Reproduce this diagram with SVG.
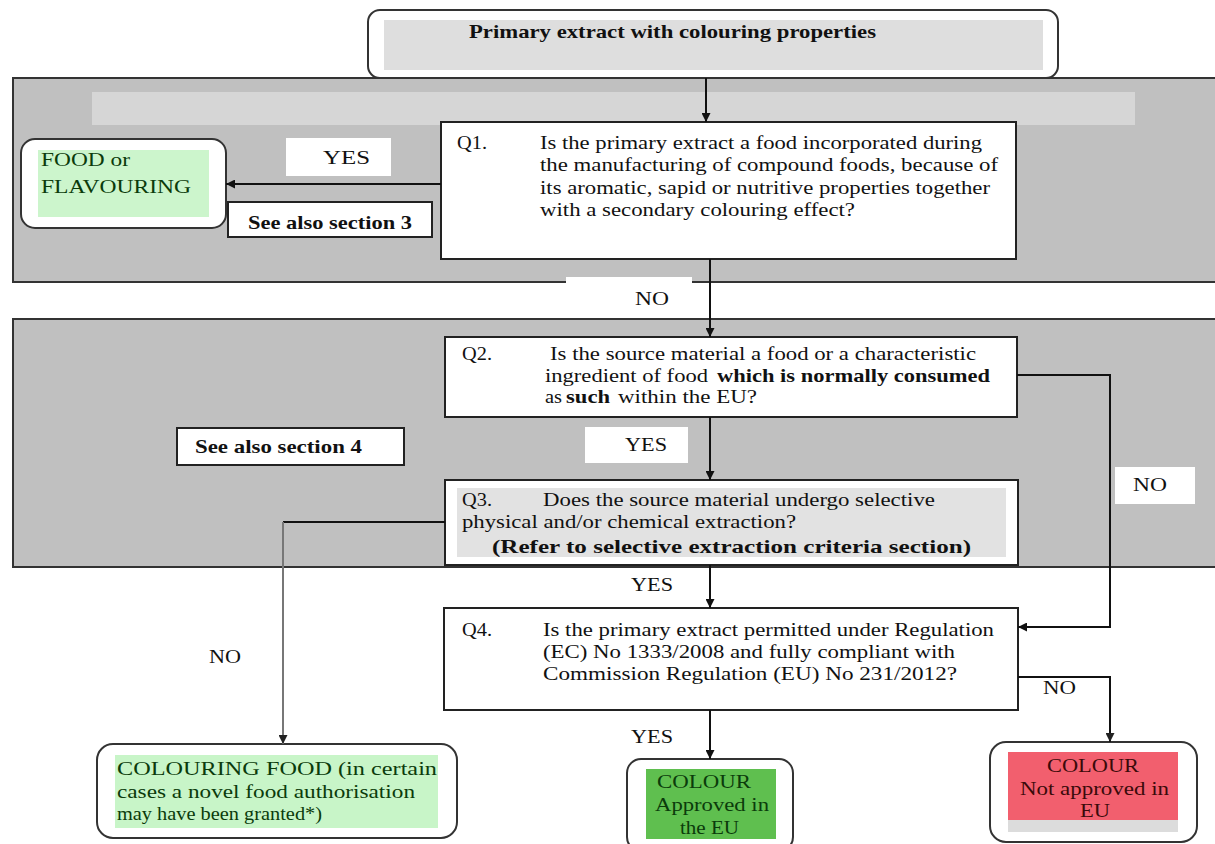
<svg xmlns="http://www.w3.org/2000/svg" width="1215" height="844" viewBox="0 0 1215 844">
<defs>
<marker id="ah" viewBox="0 0 10 10" refX="10" refY="5" markerWidth="9" markerHeight="9" markerUnits="userSpaceOnUse" orient="auto"><path d="M0,0 L10,5 L0,10 z" fill="#111"/></marker>
<marker id="ahg" viewBox="0 0 10 10" refX="10" refY="5" markerWidth="9" markerHeight="9" markerUnits="userSpaceOnUse" orient="auto"><path d="M0,0 L10,5 L0,10 z" fill="#222"/></marker>
</defs>
<style>
text{font-family:"Liberation Serif","Times New Roman",serif;font-size:19px;fill:#111}
.b{font-weight:bold}
.panel{fill:#c0c0c0;stroke:#333;stroke-width:2}
.box{fill:#fff;stroke:#222;stroke-width:2}
.rbox{fill:#fff;stroke:#333;stroke-width:2}
.lbl{fill:#fff}
.ln{fill:none;stroke:#111;stroke-width:2}
.lng{fill:none;stroke:#777;stroke-width:2}
.gt{fill:#0b3b0b}
.rt{fill:#3a0a0a}
</style>
<rect width="1215" height="844" fill="#fff"/>

<g id="panel1">
<rect class="panel" x="13" y="78" width="1215" height="204"/>
<rect x="92" y="92" width="1043" height="33" fill="#d6d6d6"/>
</g>
<g id="panel2">
<rect class="panel" x="13" y="319" width="1215" height="248"/>
</g>

<g id="label-no-1"><rect class="lbl" x="566" y="277" width="126" height="41"/><text x="635" y="305" textLength="34" lengthAdjust="spacingAndGlyphs">NO</text></g>
<g id="label-yes-3"><rect class="lbl" x="566" y="568" width="126" height="36"/><text x="631" y="591" textLength="42" lengthAdjust="spacingAndGlyphs">YES</text></g>

<g id="start">
<rect class="rbox" x="368" y="10" width="690" height="68" rx="12"/>
<rect x="384" y="20" width="659" height="50" fill="#dedede"/>
<text class="b" x="469" y="38" font-size="18" textLength="407" lengthAdjust="spacingAndGlyphs">Primary extract with colouring properties</text>
</g>

<g id="q1">
<rect class="box" x="441" y="122" width="575" height="137"/>
<text x="457" y="149" textLength="30" lengthAdjust="spacingAndGlyphs">Q1.</text>
<text x="540" y="149" textLength="442" lengthAdjust="spacingAndGlyphs">Is the primary extract a food incorporated during</text>
<text x="540" y="171" textLength="458" lengthAdjust="spacingAndGlyphs">the manufacturing of compound foods, because of</text>
<text x="540" y="194" textLength="450" lengthAdjust="spacingAndGlyphs">its aromatic, sapid or nutritive properties together</text>
<text x="540" y="216" textLength="315" lengthAdjust="spacingAndGlyphs">with a secondary colouring effect?</text>
</g>

<g id="food">
<rect class="rbox" x="21" y="139" width="205" height="89" rx="14"/>
<rect x="38" y="150" width="171" height="67" fill="#ccf5cc"/>
<text class="gt" x="41" y="166" textLength="89" lengthAdjust="spacingAndGlyphs">FOOD or</text>
<text class="gt" x="41" y="193" textLength="150" lengthAdjust="spacingAndGlyphs">FLAVOURING</text>
</g>

<g id="label-yes-1"><rect class="lbl" x="286" y="138" width="105" height="38"/><text x="323" y="164" textLength="47" lengthAdjust="spacingAndGlyphs">YES</text></g>

<g id="see3"><rect class="box" x="228" y="202" width="204" height="35"/><text class="b" x="248" y="229" font-size="18" textLength="164" lengthAdjust="spacingAndGlyphs">See also section 3</text></g>

<g id="q2">
<rect class="box" x="445" y="337" width="572" height="80"/>
<text x="462" y="360" textLength="30" lengthAdjust="spacingAndGlyphs">Q2.</text>
<text x="550" y="360" textLength="426" lengthAdjust="spacingAndGlyphs">Is the source material a food or a characteristic</text>
<text x="545" y="382" textLength="163" lengthAdjust="spacingAndGlyphs">ingredient of food</text>
<text class="b" x="717" y="382" textLength="273" lengthAdjust="spacingAndGlyphs">which is normally consumed</text>
<text x="545" y="403" textLength="17" lengthAdjust="spacingAndGlyphs">as</text>
<text class="b" x="566" y="403" textLength="44" lengthAdjust="spacingAndGlyphs">such</text>
<text x="618" y="403" textLength="139" lengthAdjust="spacingAndGlyphs">within the EU?</text>
</g>

<g id="see4"><rect class="box" x="177" y="428" width="227" height="37"/><text class="b" x="195" y="453" font-size="18" textLength="167" lengthAdjust="spacingAndGlyphs">See also section 4</text></g>

<g id="label-yes-2"><rect class="lbl" x="585" y="427" width="103" height="36"/><text x="625" y="451" textLength="42" lengthAdjust="spacingAndGlyphs">YES</text></g>
<g id="label-no-2"><rect class="lbl" x="1115" y="467" width="80" height="37"/><text x="1133" y="491" textLength="34" lengthAdjust="spacingAndGlyphs">NO</text></g>

<g id="q3">
<rect class="box" x="445" y="480" width="573" height="85"/>
<rect x="457" y="488" width="549" height="69" fill="#e2e2e2"/>
<text x="462" y="506" textLength="30" lengthAdjust="spacingAndGlyphs">Q3.</text>
<text x="543" y="506" textLength="392" lengthAdjust="spacingAndGlyphs">Does the source material undergo selective</text>
<text x="462" y="528" textLength="334" lengthAdjust="spacingAndGlyphs">physical and/or chemical extraction?</text>
<text class="b" x="492" y="553" font-size="21" textLength="479" lengthAdjust="spacingAndGlyphs">(Refer to selective extraction criteria section)</text>
</g>

<g id="q4">
<rect class="box" x="444" y="608" width="574" height="102"/>
<text x="462" y="636" textLength="30" lengthAdjust="spacingAndGlyphs">Q4.</text>
<text x="543" y="636" textLength="451" lengthAdjust="spacingAndGlyphs">Is the primary extract permitted under Regulation</text>
<text x="543" y="658" textLength="412" lengthAdjust="spacingAndGlyphs">(EC) No 1333/2008 and fully compliant with</text>
<text x="543" y="680" textLength="414" lengthAdjust="spacingAndGlyphs">Commission Regulation (EU) No 231/2012?</text>
</g>

<g id="label-no-3"><text x="209" y="663" textLength="32" lengthAdjust="spacingAndGlyphs">NO</text></g>
<g id="label-no-4"><text x="1043" y="694" textLength="33" lengthAdjust="spacingAndGlyphs">NO</text></g>
<g id="label-yes-4"><text x="631" y="743" textLength="42" lengthAdjust="spacingAndGlyphs">YES</text></g>

<g id="colouring-food">
<rect class="rbox" x="97" y="744" width="360" height="94" rx="16"/>
<rect x="115" y="755" width="323" height="73" fill="#c8f5c8"/>
<text class="gt" x="117" y="775" textLength="320" lengthAdjust="spacingAndGlyphs">COLOURING FOOD (in certain</text>
<text class="gt" x="117" y="798" textLength="298" lengthAdjust="spacingAndGlyphs">cases a novel food authorisation</text>
<text class="gt" x="117" y="820" textLength="205" lengthAdjust="spacingAndGlyphs">may have been granted*)</text>
</g>

<g id="colour-approved">
<rect class="rbox" x="627" y="759" width="166" height="92" rx="14"/>
<rect x="646" y="769" width="130" height="70" fill="#5fbf4f"/>
<text class="gt" x="657" y="788" textLength="94" lengthAdjust="spacingAndGlyphs">COLOUR</text>
<text class="gt" x="655" y="811" textLength="114" lengthAdjust="spacingAndGlyphs">Approved in</text>
<text class="gt" x="680" y="834" textLength="59" lengthAdjust="spacingAndGlyphs">the EU</text>
</g>

<g id="colour-not-approved">
<rect class="rbox" x="990" y="742" width="207" height="100" rx="16"/>
<rect x="1008" y="820" width="170" height="12" fill="#dcdcdc"/>
<rect x="1008" y="752" width="170" height="68" fill="#f25f6e"/>
<text class="rt" x="1047" y="772" textLength="92" lengthAdjust="spacingAndGlyphs">COLOUR</text>
<text class="rt" x="1020" y="795" textLength="149" lengthAdjust="spacingAndGlyphs">Not approved in</text>
<text class="rt" x="1080" y="817" textLength="30" lengthAdjust="spacingAndGlyphs">EU</text>
</g>

<g id="connectors">
<path class="ln" d="M706,78 V122" marker-end="url(#ah)"/>
<path class="ln" d="M441,184 H226" marker-end="url(#ah)"/>
<path class="ln" d="M710,259 V337" marker-end="url(#ah)"/>
<path class="ln" d="M710,417 V480" marker-end="url(#ah)"/>
<path class="ln" d="M1017,375 H1110 V627 H1018" marker-end="url(#ah)"/>
<path class="ln" d="M445,522 H283"/>
<path class="lng" d="M283,522 V744" marker-end="url(#ahg)"/>
<path class="ln" d="M710,565 V608" marker-end="url(#ah)"/>
<path class="ln" d="M1018,677 H1110 V742" marker-end="url(#ahg)"/>
<path class="ln" d="M710,710 V759" marker-end="url(#ah)"/>
</g>
</svg>
